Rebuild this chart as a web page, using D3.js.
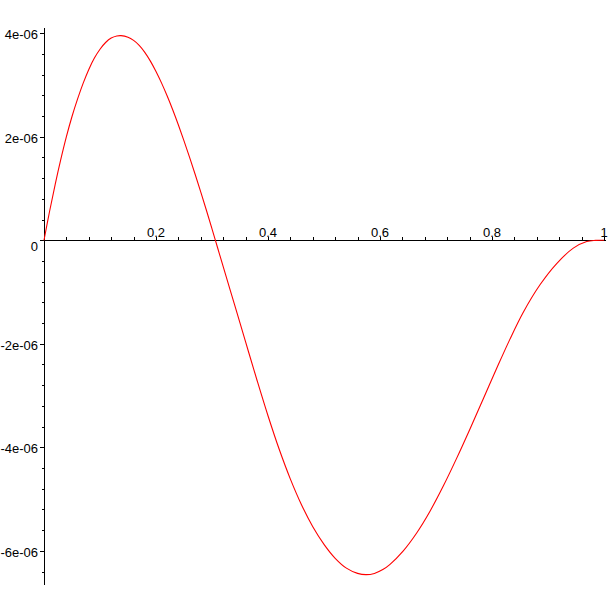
<!DOCTYPE html>
<html>
<head>
<meta charset="utf-8">
<script src="https://cdn.jsdelivr.net/npm/d3@7"></script>
<style>
  html, body { margin: 0; padding: 0; background: #ffffff; }
  svg { display: block; }
  text { font-family: "Liberation Sans", Arial, sans-serif; font-size: 13px; fill: #000; }
</style>
</head>
<body>
<svg id="chart" width="611" height="611"></svg>
<script>
// ---- data (y in units of 1e-6) ----
const xValues = [0, 0.01, 0.02, 0.03, 0.04, 0.05, 0.06, 0.07, 0.08, 0.09,
  0.10, 0.11, 0.12, 0.13, 0.1375, 0.15, 0.16, 0.17, 0.18, 0.19,
  0.20, 0.21, 0.22, 0.23, 0.24, 0.25, 0.26, 0.27, 0.28, 0.29,
  0.30, 0.31, 0.32, 0.34, 0.36, 0.38, 0.40, 0.42, 0.44, 0.46,
  0.48, 0.50, 0.52, 0.54, 0.56, 0.575, 0.59, 0.605, 0.6179, 0.6416,
  0.6655, 0.6893, 0.713, 0.737, 0.7607, 0.7845, 0.8084, 0.8321, 0.8559, 0.8857,
  0.9155, 0.9452, 0.9691, 0.985, 1];
const yMicro = [0, 0.56, 1.08, 1.56, 2.00, 2.39, 2.73, 3.035, 3.30, 3.52,
  3.69, 3.82, 3.905, 3.945, 3.952, 3.922, 3.86, 3.765, 3.63, 3.46,
  3.26, 3.035, 2.785, 2.515, 2.225, 1.92, 1.60, 1.27, 0.93, 0.58,
  0.22, -0.145, -0.51, -1.235, -1.965, -2.69, -3.39, -4.038, -4.614, -5.114,
  -5.534, -5.874, -6.144, -6.334, -6.435, -6.46, -6.436, -6.362, -6.26, -6.00,
  -5.655, -5.235, -4.749, -4.209, -3.645, -3.062, -2.474, -1.91, -1.391, -0.861,
  -0.45, -0.153, -0.025, -0.003, 0];
const yScaleUnit = 1e-6;

const xMajorTicks = [0.2, 0.4, 0.6, 0.8, 1];
const xTickLabels = ["0.2", "0.4", "0.6", "0.8", "1"];
const yMajorTicks = [-6e-6, -4e-6, -2e-6, 0, 2e-6, 4e-6];
const yTickLabels = ["-6e-06", "-4e-06", "-2e-06", "0", "2e-06", "4e-06"];
const xDomain = [0, 1];
const yDomain = [-6.66e-6, 4.10e-6];

// ---- drawing ----
const svg = d3.select("#chart");
const x = d3.scaleLinear().domain(xDomain).range([44, 604]);
const y = d3.scaleLinear().domain(yDomain).range([585, 28]);

const points = xValues.map((v, i) => [v, yMicro[i] * yScaleUnit]);

const axes = svg.append("g").attr("shape-rendering", "crispEdges").attr("stroke", "#000").attr("stroke-width", 1);

// Y axis line
axes.append("line")
  .attr("x1", x(0) + 0.5).attr("x2", x(0) + 0.5)
  .attr("y1", y(yDomain[1])).attr("y2", y(yDomain[0]));
// X axis line
axes.append("line")
  .attr("x1", x(0) - 3).attr("x2", x(1) + 2)
  .attr("y1", Math.round(y(0)) + 0.5).attr("y2", Math.round(y(0)) + 0.5);

// Y minor ticks every 0.4e-6
const yMinor = d3.range(-16, 11).map(k => k * 0.4e-6).filter(v => v >= yDomain[0] && v <= yDomain[1]);
axes.selectAll(".ymin").data(yMinor).enter().append("line")
  .attr("x1", x(0) - 2).attr("x2", x(0))
  .attr("y1", d => Math.round(y(d)) + 0.5).attr("y2", d => Math.round(y(d)) + 0.5);
// Y major ticks
axes.selectAll(".ymaj").data(yMajorTicks).enter().append("line")
  .attr("x1", x(0) - 4).attr("x2", x(0))
  .attr("y1", d => Math.round(y(d)) + 0.5).attr("y2", d => Math.round(y(d)) + 0.5);

// X minor ticks every 0.04
const xMinor = d3.range(1, 26).map(k => k * 0.04);
axes.selectAll(".xmin").data(xMinor).enter().append("line")
  .attr("x1", d => Math.round(x(d)) + 0.5).attr("x2", d => Math.round(x(d)) + 0.5)
  .attr("y1", Math.round(y(0)) - 3).attr("y2", Math.round(y(0)));

// Labels
svg.selectAll(".ylab").data(yMajorTicks).enter().append("text")
  .attr("x", x(0) - 6)
  .attr("y", d => Math.round(y(d)) + (d === 0 ? 11 : 6))
  .attr("text-anchor", "end")
  .text((d, i) => yTickLabels[i]);

svg.selectAll(".xlab").data(xMajorTicks).enter().append("text")
  .attr("x", d => x(d))
  .attr("y", Math.round(y(0)) - 3)
  .attr("text-anchor", "middle")
  .text((d, i) => xTickLabels[i]);

// Curve
const line = d3.line()
  .x(d => x(d[0]))
  .y(d => y(d[1]))
  .curve(d3.curveCatmullRom.alpha(0.5));

svg.append("path")
  .datum(points)
  .attr("d", line)
  .attr("fill", "none")
  .attr("stroke", "#ff0000")
  .attr("stroke-width", 1.1);
</script>
</body>
</html>
